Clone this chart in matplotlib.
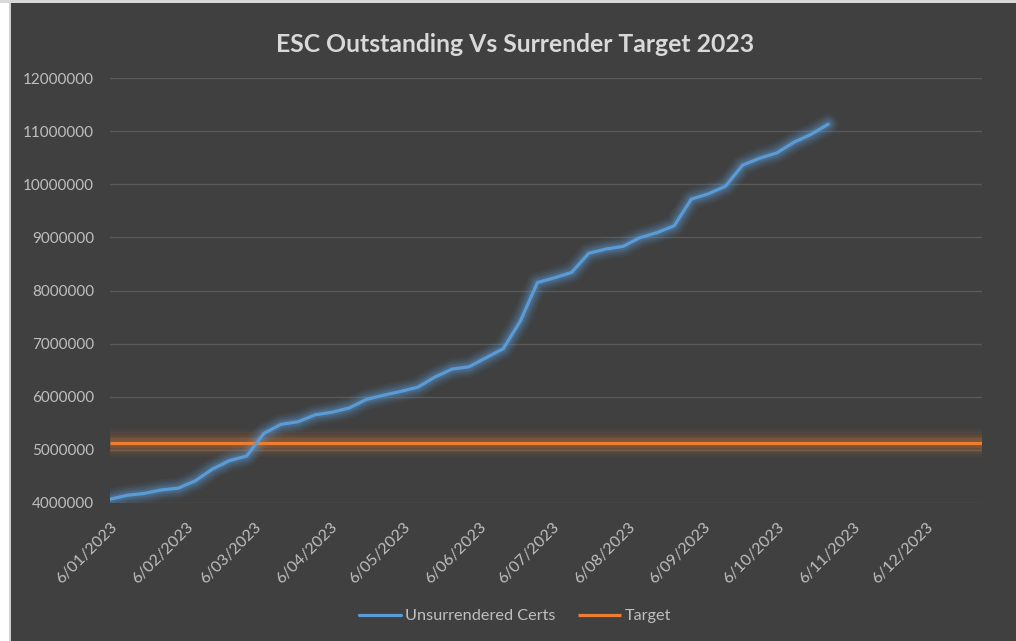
import numpy as np
import pandas as pd
import matplotlib
matplotlib.use("Agg")
import matplotlib.pyplot as plt
import matplotlib.dates as mdates
from matplotlib.patches import Rectangle

#------------- DATA -------------#
# weekly readings (Fridays), 6 Jan 2023 onwards
cert_start = "2023-01-06"
cert_values = [4070000, 4145000, 4180000, 4245000, 4280000, 4420000, 4640000,
               4800000, 4885000, 5310000, 5480000, 5530000, 5660000, 5710000,
               5790000, 5950000, 6030000, 6100000, 6180000, 6370000, 6520000,
               6565000, 6735000, 6905000, 7425000, 8150000, 8240000, 8340000,
               8700000, 8780000, 8830000, 8995000, 9090000, 9220000, 9720000,
               9820000, 9965000, 10360000, 10490000, 10590000, 10790000,
               10940000, 11130000]
target_value = 5130000
target_weeks = 52

tick_dates = ["2023-%02d-06" % m for m in range(1, 13)]
tick_labels = ["6/%02d/2023" % m for m in range(1, 13)]
y_ticks = [4000000, 5000000, 6000000, 7000000, 8000000,
           9000000, 10000000, 11000000, 12000000]

title = "ESC Outstanding Vs Surrender Target 2023"
series_names = ["Unsurrendered Certs", "Target"]

#------------- STYLE -------------#
BG = "#404040"
BLUE = "#5b9bd5"
ORANGE = "#ed7d31"
TXT = "#bfbfbf"
GRID = "#595959"
plt.rcParams['font.family'] = ['Lato', 'DejaVu Sans']

cert_dates = pd.date_range(cert_start, periods=len(cert_values), freq="7D")
target_dates = pd.date_range(cert_start, periods=target_weeks, freq="7D")
target_values = [target_value] * target_weeks

fig = plt.figure(figsize=(10.16, 6.41), dpi=100, facecolor=BG)
# light frame strips on the left and top edge
fig.patches.append(Rectangle((0, 0), 10 / 1016, 1, transform=fig.transFigure,
                             facecolor="#ffffff", edgecolor="none", zorder=0))
fig.patches.append(Rectangle((9 / 1016, 0), 1.5 / 1016, 1, transform=fig.transFigure,
                             facecolor="#d0d0d0", edgecolor="none", zorder=0))
fig.patches.append(Rectangle((0, 1 - 3 / 641), 1, 3 / 641, transform=fig.transFigure,
                             facecolor="#d9d9d9", edgecolor="none", zorder=0))

ax = fig.add_axes([110 / 1016, 1 - 503 / 641, 872 / 1016, 425 / 641])
ax.set_facecolor(BG)
ax.patch.set_alpha(0)

# soft glow under each line
for w, a in [(20, 0.05), (16, 0.06), (12.5, 0.08), (9.5, 0.1), (7, 0.13)]:
    ax.plot(target_dates, target_values, color=ORANGE, lw=w, alpha=a,
            solid_capstyle="butt", zorder=2)
for w, a in [(15, 0.07), (12, 0.09), (9.5, 0.11), (7, 0.14), (5, 0.18)]:
    ax.plot(cert_dates, cert_values, color=BLUE, lw=w, alpha=a,
            solid_capstyle="round", solid_joinstyle="round", zorder=3)

ax.plot(cert_dates, cert_values, color=BLUE, lw=2.3, label=series_names[0],
        solid_joinstyle="round", solid_capstyle="round", zorder=5)
ax.plot(target_dates, target_values, color=ORANGE, lw=2.3, label=series_names[1],
        solid_capstyle="butt", zorder=4)

ax.set_xlim(target_dates[0], target_dates[-1])
ax.set_ylim(y_ticks[0], y_ticks[-1])
ax.set_yticks(y_ticks)
ax.set_yticklabels([str(v) for v in y_ticks])
ax.set_xticks(pd.to_datetime(tick_dates))
ax.set_xticklabels(tick_labels, rotation=45, ha="right", rotation_mode="anchor")

ax.grid(axis="y", color=GRID, lw=1)
ax.set_axisbelow(True)
for s in ax.spines.values():
    s.set_visible(False)
ax.tick_params(axis="both", length=0, colors=TXT, labelsize=11)
ax.tick_params(axis="x", labelsize=11.5)
ax.tick_params(axis="y", pad=11.5)
ax.tick_params(axis="x", pad=12)

fig.text(0.507, 1 - 45 / 641, title, ha="center", va="center",
         fontsize=17.8, fontweight="bold", color="#d9d9d9")

fig.legend(loc="center", bbox_to_anchor=(0.507, 1 - 616 / 641), ncol=2,
           frameon=False, fontsize=11.7, labelcolor=TXT, handlelength=2.6,
           handletextpad=0.25, columnspacing=1.4)

fig.savefig("out.png", dpi=100, facecolor=fig.get_facecolor())
